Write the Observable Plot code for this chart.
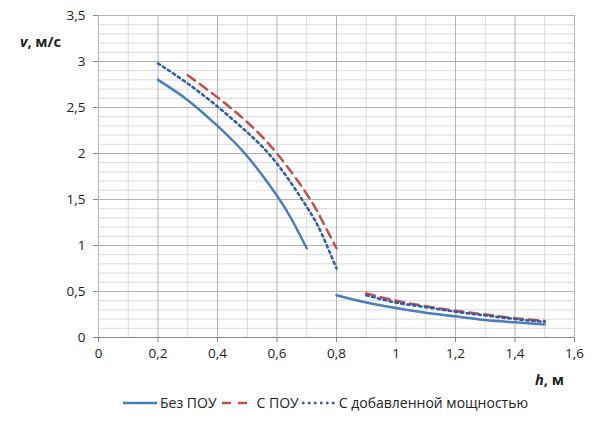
<!DOCTYPE html>
<html><head><meta charset="utf-8">
<script src="https://cdn.jsdelivr.net/npm/d3@7"></script>
<script src="https://cdn.jsdelivr.net/npm/@observablehq/plot@0.6"></script>
<style>
body{margin:0;background:#fff;font-family:"Open Sans",sans-serif;}
#wrap{position:relative;width:597px;height:438px;}
#legend{position:absolute;left:123px;top:393px;display:flex;align-items:center;font-size:14px;color:#222;white-space:nowrap;}
#legend span{margin:0 3px 0 3px;}
</style></head><body>
<div id="wrap"><div id="chart"></div><div id="legend"></div></div>
<script>
// Series: Без ПОУ (blue solid)
const bezH1 = [0.2,0.3,0.4,0.5,0.6,0.65,0.7];
const bezV1 = [2.80,2.58,2.30,1.97,1.54,1.28,0.97];
const bezH2 = [0.8,0.9,1.0,1.1,1.2,1.3,1.4,1.5];
const bezV2 = [0.46,0.38,0.32,0.27,0.23,0.19,0.165,0.14];
// С ПОУ (red dashed)
const pouH1 = [0.3,0.4,0.5,0.6,0.7,0.75,0.8];
const pouV1 = [2.85,2.61,2.34,2.00,1.56,1.28,0.97];
const pouH2 = [0.9,1.0,1.1,1.2,1.3,1.4,1.5];
const pouV2 = [0.48,0.40,0.34,0.29,0.25,0.21,0.18];
// С добавленной мощностью (blue dotted)
const addH1 = [0.2,0.3,0.4,0.5,0.6,0.7,0.75,0.8];
const addV1 = [2.98,2.76,2.51,2.23,1.89,1.42,1.13,0.75];
const addH2 = [0.9,1.0,1.1,1.2,1.3,1.4,1.5];
const addV2 = [0.46,0.38,0.33,0.28,0.24,0.20,0.17];

const xTicks = [0,0.2,0.4,0.6,0.8,1.0,1.2,1.4,1.6];
const yTicks = [0,0.5,1,1.5,2,2.5,3,3.5];
const xMinor = d3.range(1,16,2).map(i=>i/10);
const yMinor = d3.range(0,36).filter(i=>i%5!==0).map(i=>i/10);

const names = ["Без ПОУ","С ПОУ","С добавленной мощностью"];
const colors = ["#4A7EBB","#C0504D","#2E5CA5"];

const mk = (hs,vs,s,seg)=>hs.map((h,i)=>({h,v:vs[i],s,seg}));
const data = [
  ...mk(bezH1,bezV1,0,"a"),...mk(bezH2,bezV2,0,"b"),
  ...mk(pouH1,pouV1,1,"a"),...mk(pouH2,pouV2,1,"b"),
  ...mk(addH1,addV1,2,"a"),...mk(addH2,addV2,2,"b")
];
const fmt = d => String(+d.toFixed(1)).replace(".",",");
const styles = [
  {strokeWidth:2.5},
  {strokeWidth:2.5,strokeDasharray:"9,6"},
  {strokeWidth:2.5,strokeDasharray:"2.5,3.5"}
];

const lineMarks = [0,1,2].flatMap(s=>["a","b"].map(seg=>
  Plot.line(data.filter(d=>d.s===s&&d.seg===seg),{x:"h",y:"v",stroke:colors[s],curve:"natural",...styles[s]})));

const chart = Plot.plot({
  width:597,height:395,
  marginLeft:98,marginRight:23,marginTop:15,marginBottom:58,
  style:{fontFamily:"Open Sans, sans-serif",fontSize:"13.5px",color:"#222",background:"#fff"},
  x:{domain:[0,1.6],ticks:xTicks,tickFormat:fmt,tickSize:5,tickPadding:6,label:null},
  y:{domain:[0,3.5],ticks:yTicks,tickFormat:fmt,tickSize:5,tickPadding:8,label:null},
  marks:[
    Plot.ruleX(xMinor,{stroke:"#d9d9d9",strokeWidth:1}),
    Plot.ruleY(yMinor,{stroke:"#d9d9d9",strokeWidth:1}),
    Plot.ruleX(xTicks,{stroke:"#b3b3b3",strokeWidth:1}),
    Plot.ruleY(yTicks,{stroke:"#b3b3b3",strokeWidth:1}),
    Plot.ruleY([0],{stroke:"#868686",strokeWidth:1.2}),
    Plot.axisX({ticks:xTicks,tickFormat:fmt,tickSize:5,tickPadding:6,stroke:"#868686",label:null}),
    Plot.axisY({ticks:yTicks,tickFormat:fmt,tickSize:5,tickPadding:8,stroke:"#868686",label:null}),
    ...lineMarks
  ]
});
document.getElementById("chart").appendChild(chart);
const svg = d3.select(chart);
const yl = svg.append("text").attr("x",20).attr("y",47).attr("text-anchor","start").attr("font-weight","bold").attr("font-size",14.5).attr("fill","#222");
yl.append("tspan").attr("font-style","italic").text("v");
yl.append("tspan").text(", м/с");
const xl = svg.append("text").attr("x",535).attr("y",385).attr("text-anchor","start").attr("font-weight","bold").attr("font-size",14.5).attr("fill","#222");
xl.append("tspan").attr("font-style","italic").text("h");
xl.append("tspan").text(", м");

const leg = d3.select("#legend");
names.forEach((n,i)=>{
  const s = leg.append("svg").attr("width",34).attr("height",10);
  const l = s.append("line").attr("x1",0).attr("x2",34).attr("y1",5).attr("y2",5)
    .attr("stroke",colors[i]).attr("stroke-width",2.5);
  if(i===1) l.attr("stroke-dasharray","9,7").attr("x1",2);
  if(i===2) l.attr("stroke-dasharray","2.5,3.5");
  leg.append("span").text(n);
});
</script></body></html>
